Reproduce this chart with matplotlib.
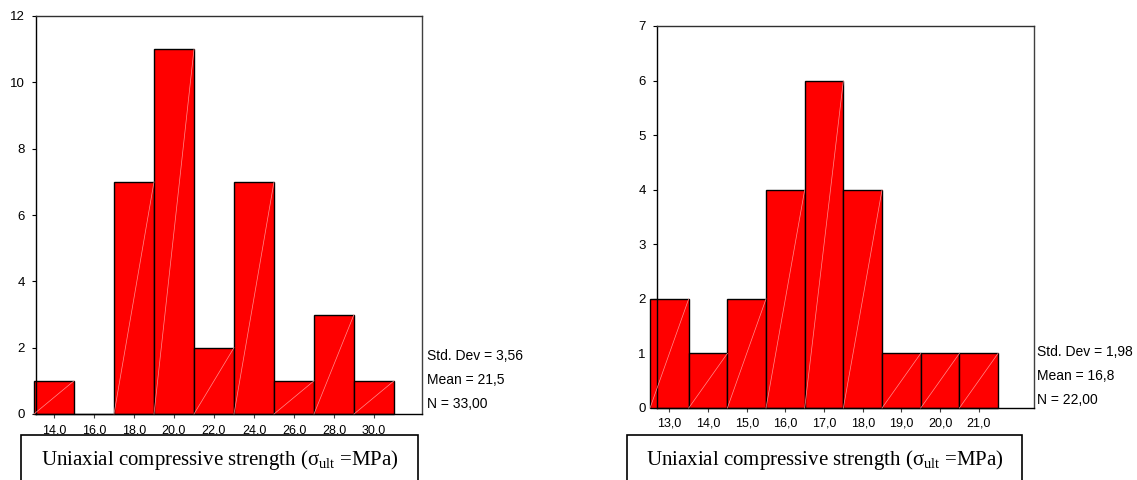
import matplotlib.pyplot as plt
from matplotlib.patches import Rectangle

# histogram 1 (bin centres, bin width 2)
centres_a = [14, 16, 18, 20, 22, 24, 26, 28, 30]
counts_a = [1, 0, 7, 11, 2, 7, 1, 3, 1]
ticklabels_a = ['14.0', '16.0', '18.0', '20.0', '22.0', '24.0', '26.0', '28.0', '30.0']
stats_a = ['Std. Dev = 3,56', 'Mean = 21,5', 'N = 33,00']

# histogram 2 (bin width 1)
centres_b = [13, 14, 15, 16, 17, 18, 19, 20, 21]
counts_b = [2, 1, 2, 4, 6, 4, 1, 1, 1]
ticklabels_b = ['13,0', '14,0', '15,0', '16,0', '17,0', '18,0', '19,0', '20,0', '21,0']
stats_b = ['Std. Dev = 1,98', 'Mean = 16,8', 'N = 22,00']

caption = r'Uniaxial compressive strength ($\mathregular{\sigma_{ult}}$ =MPa)'

W, H = 1137, 480
fig = plt.figure(figsize=(W / 100, H / 100), dpi=100)
plt.rcParams['font.family'] = ['Liberation Sans', 'DejaVu Sans']


def px_box(x0, x1, ytop, ybot):
    return [x0 / W, 1 - ybot / H, (x1 - x0) / W, (ybot - ytop) / H]


def histo(ax, centres, counts, width, labels, ymax, xlim, stats, stat_x, stat_y, xpad):
    ax.bar(centres, counts, width=width, color='#ff0000', edgecolor='black',
           linewidth=1.0, clip_on=False, zorder=2)
    # faint diagonal streak SPSS draws in each bar
    for c, n in zip(centres, counts):
        if n > 0:
            ax.plot([c - width / 2, c + width / 2], [0, n], color='#ff9090',
                    lw=0.5, zorder=3, clip_on=False)
    ax.set_xlim(*xlim)
    ax.set_ylim(0, ymax)
    ax.set_xticks(centres)
    ax.set_xticklabels(labels, fontsize=9)
    ax.set_yticks(range(0, ymax + 1, 2 if ymax > 8 else 1))
    ax.tick_params(axis='y', labelsize=9.5, length=3, width=0.8, pad=5)
    ax.tick_params(axis='x', length=3, width=0.8, pad=xpad, color='#404040')
    for s in ax.spines.values():
        s.set_linewidth(1.0)
    ax.spines['right'].set_color('#404040')
    ax.spines['top'].set_color('#303030')
    for i, t in enumerate(stats):
        fig.text(stat_x / W, 1 - (stat_y + 24 * i) / H, t, fontsize=10,
                 va='center', ha='left')


ax1 = fig.add_axes(px_box(36, 422, 16, 414))
histo(ax1, centres_a, counts_a, 2, ticklabels_a, 12, (13.1, 32.4), stats_a, 427, 356, 5)

ax2 = fig.add_axes(px_box(657, 1034, 26, 408))
histo(ax2, centres_b, counts_b, 1, ticklabels_b, 7, (12.68, 22.43), stats_b, 1037, 352, 4)

# caption boxes
for x0, x1 in [(21, 418), (627, 1022)]:
    fig.patches.append(Rectangle((x0 / W, -0.05), (x1 - x0) / W, 0.05 + 1 - 435 / H,
                                 transform=fig.transFigure, fill=False,
                                 edgecolor='black', linewidth=1.2))
    fig.text((x0 + x1) / 2 / W, 1 - 460 / H, caption, ha='center', va='center',
             fontsize=15, family='Liberation Serif')

fig.savefig('out.png', dpi=100)
